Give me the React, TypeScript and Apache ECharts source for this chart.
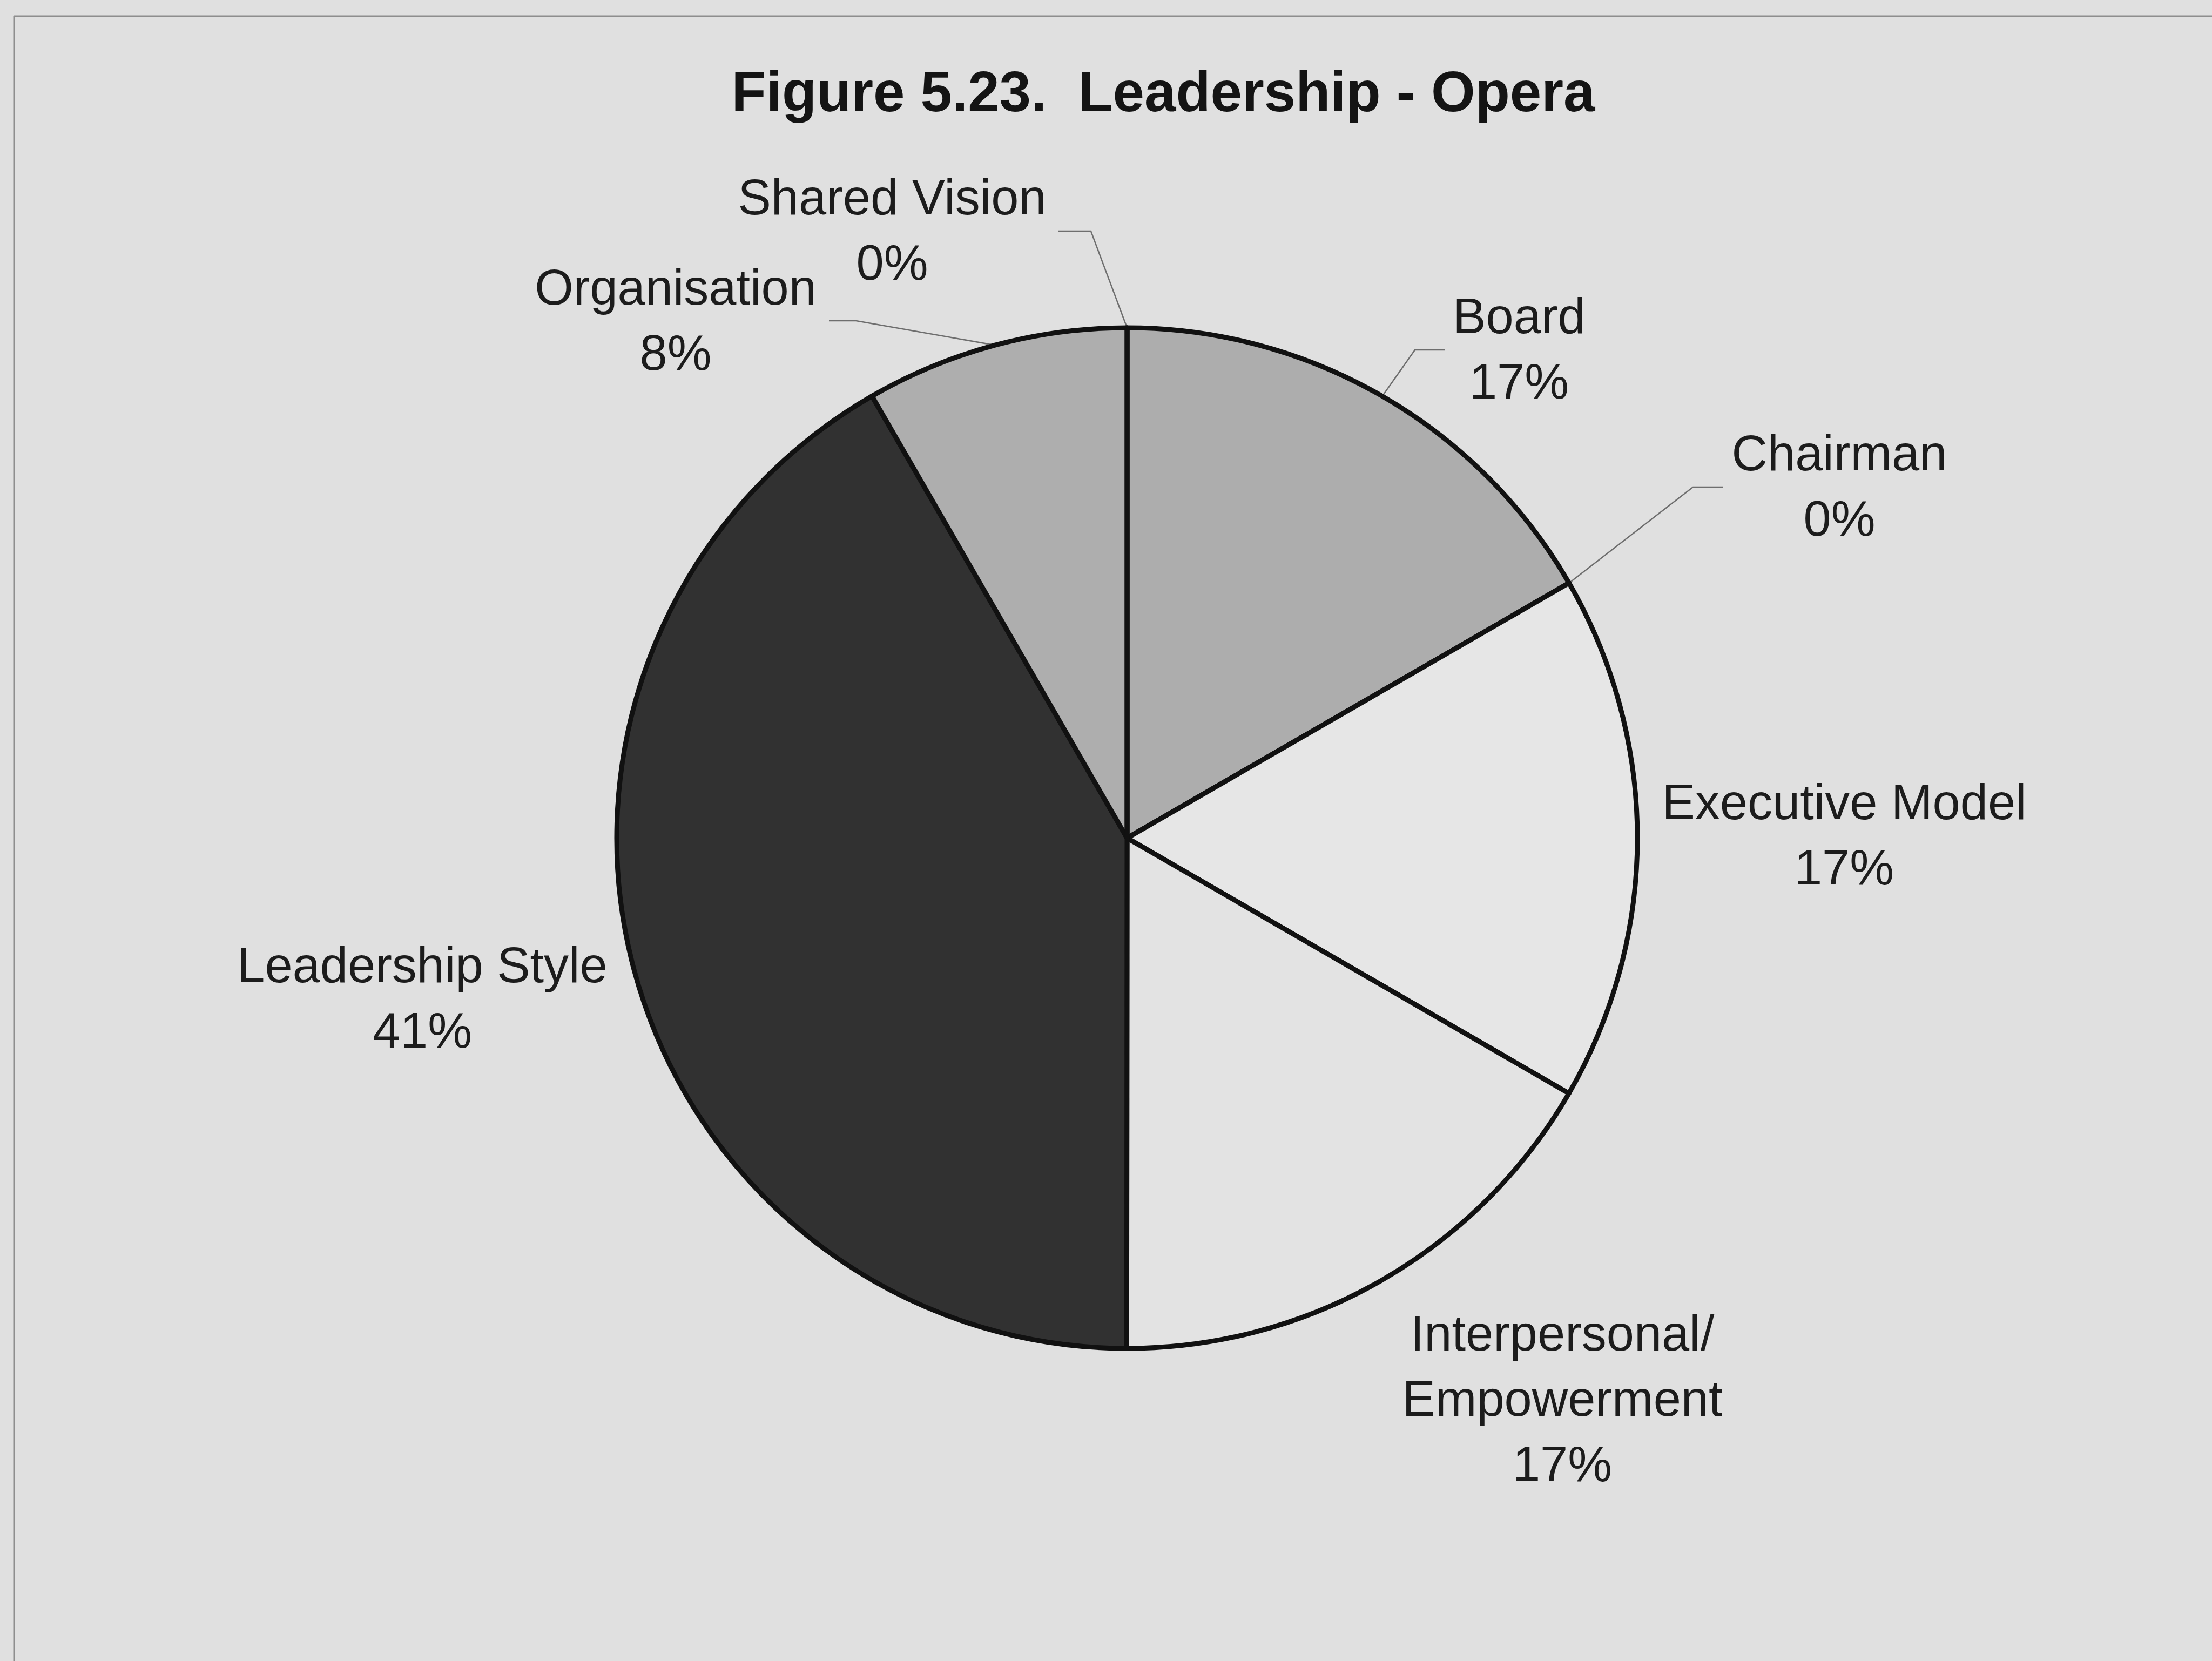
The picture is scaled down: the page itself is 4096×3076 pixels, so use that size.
import React, { useEffect, useRef } from 'react';
import * as echarts from 'echarts';

const categories = [
  'Board',
  'Chairman',
  'Executive Model',
  'Interpersonal/\nEmpowerment',
  'Leadership Style',
  'Organisation',
  'Shared Vision',
];
const values = [16.67, 0, 16.67, 16.67, 41.66, 8.33, 0];
const percentLabels = ['17%', '0%', '17%', '17%', '41%', '8%', '0%'];
const sliceColors = ['#adadad', '#adadad', '#e6e6e6', '#e3e3e3', '#313131', '#aeaeae', '#aeaeae'];

const W = 4096;
const H = 3076;
const FONT = '"Liberation Sans", Arial, Helvetica, sans-serif';

const PIE_CENTER = [2087, 1552];
const PIE_RADIUS = 945;

// label text-centre position and (optional) leader-line bend / end points
const labelPlacement: { x: number; y: number; line: number[][] | null }[] = [
  { x: 2813, y: 645, line: [[2620, 648], [2676, 648]] },
  { x: 3406, y: 899, line: [[3135, 902], [3191, 902]] },
  { x: 3415, y: 1545, line: null },
  { x: 2893, y: 2590, line: null },
  { x: 782, y: 1847, line: null },
  { x: 1251, y: 592, line: [[1585, 594], [1535, 594]] },
  { x: 1652, y: 425, line: [[2020, 428], [1959, 428]] },
];

export default function App() {
  const ref = useRef<HTMLDivElement>(null);
  useEffect(() => {
    if (!ref.current) return;
    const chart = echarts.init(ref.current, undefined, { renderer: 'svg', width: W, height: H });
    const data = categories.map((name, i) => ({
      name,
      value: values[i],
      itemStyle: { color: sliceColors[i] },
      labelLine: { show: labelPlacement[i].line !== null },
    }));
    chart.setOption({
      animation: false,
      backgroundColor: '#e0e0e0',
      title: {
        text: 'Figure 5.23.  Leadership - Opera',
        left: 2154,
        top: 117,
        textAlign: 'center',
        padding: 0,
        textStyle: {
          fontSize: 105,
          fontWeight: 'bold',
          fontFamily: FONT,
          color: '#141414',
          lineHeight: 105,
        },
      },
      graphic: [
        {
          type: 'line',
          shape: { x1: 26, y1: 30, x2: W, y2: 30 },
          style: { stroke: '#8e8e8e', lineWidth: 3 },
          silent: true,
        },
        {
          type: 'line',
          shape: { x1: 26, y1: 30, x2: 26, y2: H },
          style: { stroke: '#8e8e8e', lineWidth: 3 },
          silent: true,
        },
      ],
      series: [
        {
          type: 'pie',
          center: PIE_CENTER,
          radius: PIE_RADIUS,
          startAngle: 90,
          clockwise: true,
          avoidLabelOverlap: false,
          minAngle: 0,
          silent: true,
          emphasis: { disabled: true },
          itemStyle: { borderColor: '#111111', borderWidth: 9 },
          label: {
            show: true,
            position: 'outside',
            formatter: (p: any) => `${p.name}\n${percentLabels[p.dataIndex]}`,
            fontSize: 92,
            lineHeight: 121,
            fontFamily: FONT,
            color: '#1c1c1c',
            align: 'center',
          },
          labelLine: {
            show: true,
            smooth: false,
            length: 60,
            length2: 60,
            lineStyle: { color: '#6e6e6e', width: 2.5 },
          },
          labelLayout: (params: any) => {
            const p = labelPlacement[params.dataIndex];
            const res: any = { x: p.x, y: p.y, align: 'center', verticalAlign: 'middle' };
            if (p.line && params.labelLinePoints && params.labelLinePoints[0]) {
              res.labelLinePoints = [params.labelLinePoints[0], p.line[0], p.line[1]];
            }
            return res;
          },
          data,
        },
      ],
    });
    return () => chart.dispose();
  }, []);
  return (
    <div
      ref={ref}
      style={{ position: 'fixed', left: 0, top: 0, width: W, height: H }}
    />
  );
}
